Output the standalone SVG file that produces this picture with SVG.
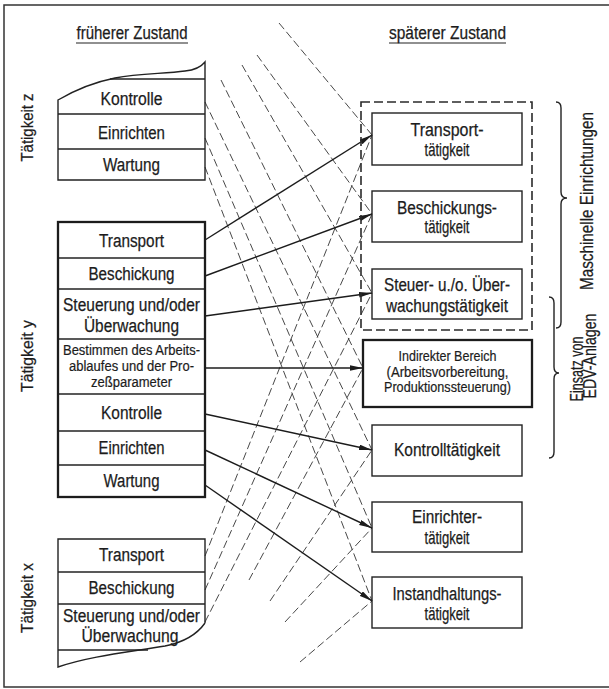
<svg xmlns="http://www.w3.org/2000/svg" width="609" height="689" viewBox="0 0 609 689">
<style>
.t{font-family:"Liberation Sans",Arial,sans-serif;font-size:18px;text-anchor:middle;fill:#1c1c1c;stroke:#1c1c1c;stroke-width:0.25}
.s{font-size:14px;stroke-width:0.2}
.r{font-size:17px}
.ln{fill:none;stroke:#222;stroke-width:1.4}
.thk{fill:none;stroke:#1c1c1c;stroke-width:2.3}
.dsh{fill:none;stroke:#333;stroke-width:0.9;stroke-dasharray:8 3.5}
.arr{fill:none;stroke:#1c1c1c;stroke-width:1.4;marker-end:url(#ah)}
.grp{fill:none;stroke:#2a2a2a;stroke-width:1.6;stroke-dasharray:9 4}
</style>
<defs>
<marker id="ah" markerUnits="userSpaceOnUse" markerWidth="14" markerHeight="6" refX="13" refY="2.75" orient="auto">
<path d="M0,0 L13,2.75 L0,5.5 z" fill="#1c1c1c"/>
</marker>
</defs>
<rect width="609" height="689" fill="#fff"/>
<path d="M609,5 H4 V687 H609" fill="none" stroke="#333" stroke-width="1.5"/>

<g id="headers">
<text class="t" x="132" y="39" textLength="111" lengthAdjust="spacingAndGlyphs">früherer Zustand</text>
<line x1="76" y1="43" x2="188" y2="43" stroke="#222" stroke-width="1.2"/>
<text class="t" x="447.5" y="39" textLength="117" lengthAdjust="spacingAndGlyphs">späterer Zustand</text>
<line x1="389" y1="43" x2="506" y2="43" stroke="#222" stroke-width="1.2"/>
</g>

<g id="connectors">
<line class="dsh" x1="279" y1="23" x2="372" y2="135"/>
<line class="dsh" x1="257" y1="55" x2="372" y2="214"/>
<line class="dsh" x1="242" y1="65" x2="372" y2="293"/>
<line class="dsh" x1="221" y1="80" x2="363" y2="368"/>
<line class="dsh" x1="205" y1="102" x2="372" y2="450"/>
<line class="dsh" x1="205" y1="138" x2="372" y2="528"/>
<line class="dsh" x1="205" y1="167" x2="372" y2="601"/>
<line class="dsh" x1="205" y1="556" x2="372" y2="135"/>
<line class="dsh" x1="205" y1="590" x2="372" y2="214"/>
<line class="dsh" x1="205" y1="622" x2="372" y2="293"/>
<line class="dsh" x1="249" y1="580" x2="363" y2="368"/>
<line class="dsh" x1="270" y1="601" x2="372" y2="450"/>
<line class="dsh" x1="285" y1="622" x2="372" y2="528"/>
<line class="dsh" x1="300" y1="662" x2="372" y2="601"/>
<line class="arr" x1="205" y1="240" x2="372" y2="135"/>
<line class="arr" x1="205" y1="276" x2="372" y2="214"/>
<line class="arr" x1="205" y1="316" x2="372" y2="293"/>
<line class="arr" x1="205" y1="368" x2="363" y2="368"/>
<line class="arr" x1="205" y1="414" x2="372" y2="450"/>
<line class="arr" x1="205" y1="450" x2="372" y2="528"/>
<line class="arr" x1="205" y1="485" x2="372" y2="601"/>
</g>

<g id="taetigkeit-z">
<path class="ln" d="M58,100 C75,90 95,82 115,78 C140,73 165,74 185,71 C195,70 201,67 205,62 V180 H58 Z"/>
<line class="ln" x1="110" y1="79" x2="205" y2="79"/>
<line class="ln" x1="58" y1="114" x2="205" y2="114"/>
<line class="ln" x1="58" y1="149" x2="205" y2="149"/>
<text class="t" x="131.5" y="104.5" textLength="62" lengthAdjust="spacingAndGlyphs">Kontrolle</text>
<text class="t" x="131.5" y="138.5" textLength="67" lengthAdjust="spacingAndGlyphs">Einrichten</text>
<text class="t" x="131.5" y="171" textLength="57" lengthAdjust="spacingAndGlyphs">Wartung</text>
<text class="t r" transform="translate(33,127.5) rotate(-90)" textLength="68" lengthAdjust="spacingAndGlyphs">Tätigkeit z</text>
</g>

<g id="taetigkeit-y">
<line class="ln" x1="58" y1="258" x2="205" y2="258"/>
<line class="ln" x1="58" y1="289" x2="205" y2="289"/>
<line class="ln" x1="58" y1="339" x2="205" y2="339"/>
<line class="ln" x1="58" y1="394" x2="205" y2="394"/>
<line class="ln" x1="58" y1="431" x2="205" y2="431"/>
<line class="ln" x1="58" y1="465" x2="205" y2="465"/>
<rect class="thk" x="58" y="222" width="147" height="275"/>
<text class="t" x="131.5" y="246.5" textLength="65" lengthAdjust="spacingAndGlyphs">Transport</text>
<text class="t" x="131.5" y="280" textLength="86" lengthAdjust="spacingAndGlyphs">Beschickung</text>
<text class="t" x="131.5" y="310.5" textLength="137" lengthAdjust="spacingAndGlyphs">Steuerung und/oder</text>
<text class="t" x="131.5" y="331.5" textLength="95" lengthAdjust="spacingAndGlyphs">Überwachung</text>
<text class="t s" x="131.5" y="355" textLength="137" lengthAdjust="spacingAndGlyphs">Bestimmen des Arbeits-</text>
<text class="t s" x="131.5" y="371" textLength="125" lengthAdjust="spacingAndGlyphs">ablaufes und der Pro-</text>
<text class="t s" x="131.5" y="387" textLength="81" lengthAdjust="spacingAndGlyphs">zeßparameter</text>
<text class="t" x="131.5" y="419" textLength="61" lengthAdjust="spacingAndGlyphs">Kontrolle</text>
<text class="t" x="131.5" y="453.5" textLength="66" lengthAdjust="spacingAndGlyphs">Einrichten</text>
<text class="t" x="131.5" y="486.5" textLength="56" lengthAdjust="spacingAndGlyphs">Wartung</text>
<text class="t r" transform="translate(33,356) rotate(-90)" textLength="72" lengthAdjust="spacingAndGlyphs">Tätigkeit y</text>
</g>

<g id="taetigkeit-x">
<path class="ln" d="M205,623 V539 H58 V667 C90,656 130,652 165,646 C185,642 198,633 205,623"/>
<line class="ln" x1="58" y1="572" x2="205" y2="572"/>
<line class="ln" x1="58" y1="604" x2="205" y2="604"/>
<line class="ln" x1="58" y1="650" x2="148" y2="650"/>
<text class="t" x="131.5" y="561" textLength="65" lengthAdjust="spacingAndGlyphs">Transport</text>
<text class="t" x="131.5" y="594" textLength="86" lengthAdjust="spacingAndGlyphs">Beschickung</text>
<text class="t" x="131.5" y="621.5" textLength="137" lengthAdjust="spacingAndGlyphs">Steuerung und/oder</text>
<text class="t" x="130" y="641.5" textLength="97" lengthAdjust="spacingAndGlyphs">Überwachung</text>
<text class="t r" transform="translate(33,598) rotate(-90)" textLength="70" lengthAdjust="spacingAndGlyphs">Tätigkeit x</text>
</g>

<g id="maschinelle-gruppe">
<rect class="grp" x="361" y="102" width="171" height="228"/>
</g>

<g id="transporttaetigkeit">
<rect class="ln" x="372" y="113" width="150" height="52"/>
<text class="t" x="447" y="135.5" textLength="73" lengthAdjust="spacingAndGlyphs">Transport-</text>
<text class="t" x="447" y="155.5" textLength="45" lengthAdjust="spacingAndGlyphs">tätigkeit</text>
</g>

<g id="beschickungstaetigkeit">
<rect class="ln" x="372" y="191" width="150" height="51"/>
<text class="t" x="447" y="213.5" textLength="100" lengthAdjust="spacingAndGlyphs">Beschickungs-</text>
<text class="t" x="447" y="233" textLength="45" lengthAdjust="spacingAndGlyphs">tätigkeit</text>
</g>

<g id="steuertaetigkeit">
<rect class="ln" x="372" y="269" width="150" height="50"/>
<text class="t" x="447" y="291" textLength="126" lengthAdjust="spacingAndGlyphs">Steuer- u./o. Über-</text>
<text class="t" x="447" y="311.5" textLength="122" lengthAdjust="spacingAndGlyphs">wachungstätigkeit</text>
</g>

<g id="indirekter-bereich">
<rect class="thk" x="363" y="340" width="169" height="67"/>
<text class="t s" x="447.5" y="361" textLength="98" lengthAdjust="spacingAndGlyphs">Indirekter Bereich</text>
<text class="t s" x="447.5" y="376.5" textLength="122" lengthAdjust="spacingAndGlyphs">(Arbeitsvorbereitung,</text>
<text class="t s" x="447.5" y="391.5" textLength="127" lengthAdjust="spacingAndGlyphs">Produktionssteuerung)</text>
</g>

<g id="kontrolltaetigkeit">
<rect class="ln" x="372" y="425" width="150" height="51"/>
<text class="t" x="447" y="456" textLength="106" lengthAdjust="spacingAndGlyphs">Kontrolltätigkeit</text>
</g>

<g id="einrichtertaetigkeit">
<rect class="ln" x="372" y="502" width="150" height="50"/>
<text class="t" x="447" y="523" textLength="70" lengthAdjust="spacingAndGlyphs">Einrichter-</text>
<text class="t" x="447" y="543.5" textLength="45" lengthAdjust="spacingAndGlyphs">tätigkeit</text>
</g>

<g id="instandhaltungstaetigkeit">
<rect class="ln" x="372" y="577" width="150" height="51"/>
<text class="t" x="447" y="599.5" textLength="109" lengthAdjust="spacingAndGlyphs">Instandhaltungs-</text>
<text class="t" x="447" y="620" textLength="45" lengthAdjust="spacingAndGlyphs">tätigkeit</text>
</g>

<g id="klammer-maschinelle">
<path class="ln" d="M556,102 Q561,102 561,108 V192 Q561,198 567,198 Q561,198 561,204 V322 Q561,328 556,328" stroke-width="1.3"/>
<text class="t" transform="translate(592.5,201) rotate(-90)" textLength="178" lengthAdjust="spacingAndGlyphs">Maschinelle Einrichtungen</text>
</g>

<g id="klammer-edv">
<path class="ln" d="M549,297 Q554,297 554,303 V367 Q554,373 559,373 Q554,373 554,379 V452 Q554,458 549,458" stroke-width="1.3"/>
<text class="t" transform="translate(583,369) rotate(-90)" textLength="65" lengthAdjust="spacingAndGlyphs">Einsatz von</text>
<text class="t" transform="translate(595.5,356) rotate(-90)" textLength="85" lengthAdjust="spacingAndGlyphs">EDV-Anlagen</text>
</g>
</svg>
